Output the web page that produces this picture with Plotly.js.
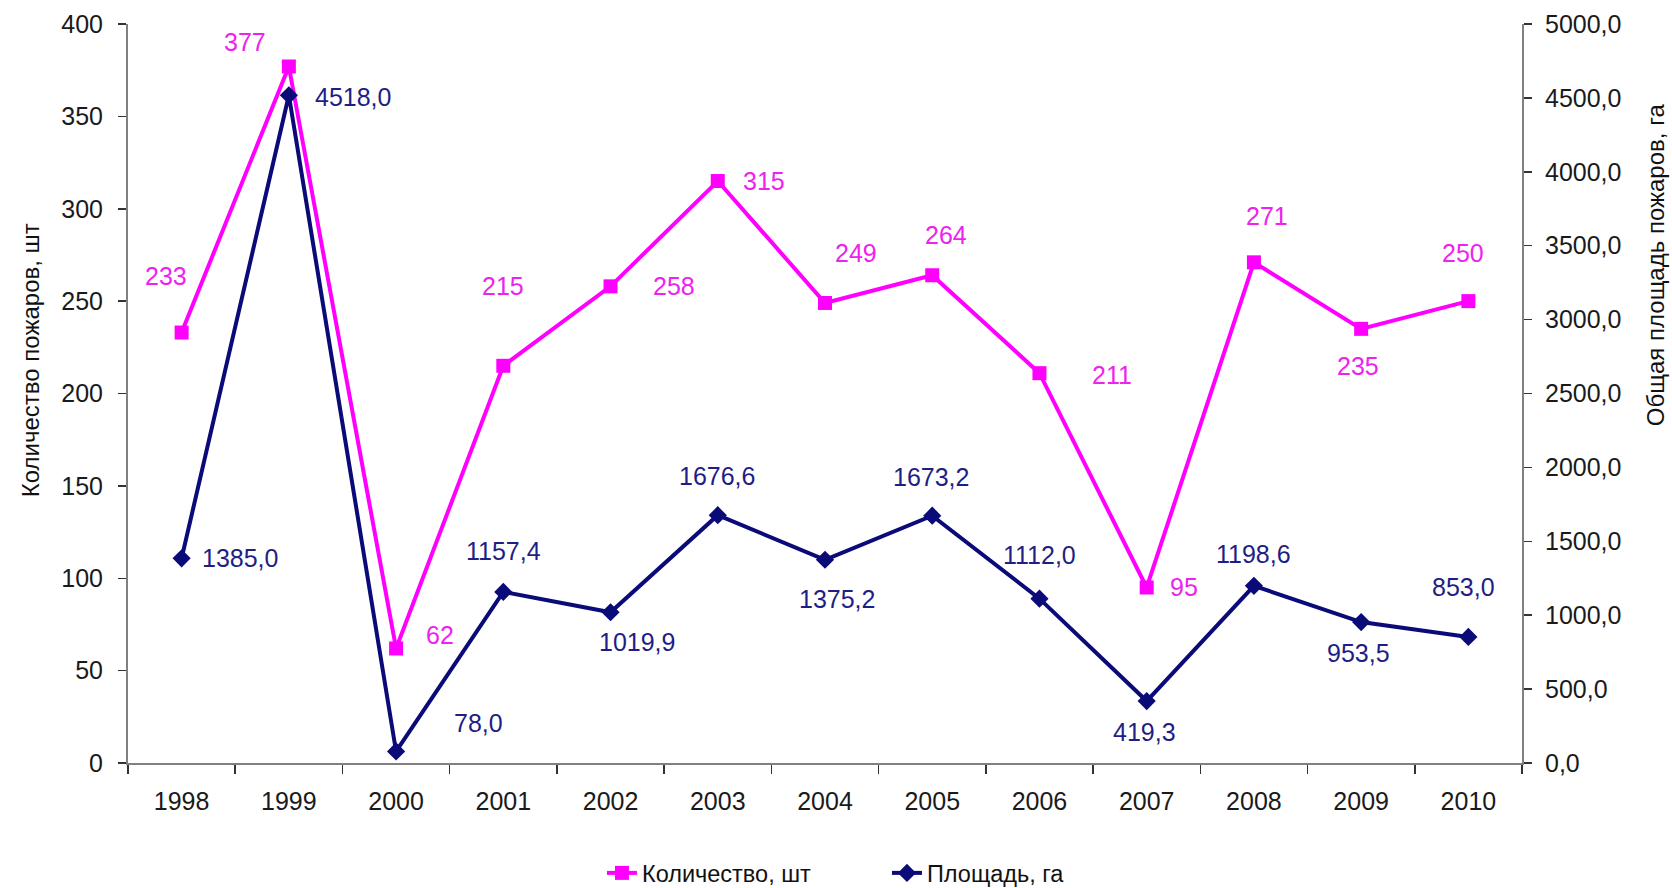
<!DOCTYPE html>
<html>
<head>
<meta charset="utf-8">
<script src="https://cdn.plot.ly/plotly-3.0.1.min.js"></script>
<style>html,body{margin:0;padding:0;background:#fff;}#chart{width:1672px;height:888px;}</style>
</head>
<body>
<div id="chart"></div>
<script>
// ---- data ----
const years = ['1998','1999','2000','2001','2002','2003','2004','2005','2006','2007','2008','2009','2010'];
const countValues = [233, 377, 62, 215, 258, 315, 249, 264, 211, 95, 271, 235, 250];
const areaValues = [1385.0, 4518.0, 78.0, 1157.4, 1019.9, 1676.6, 1375.2, 1673.2, 1112.0, 419.3, 1198.6, 953.5, 853.0];
const countName = 'Количество, шт';
const areaName = 'Площадь, га';
const leftTitle = 'Количество пожаров, шт';
const rightTitle = 'Общая площадь пожаров, га';

// ---- label offsets (pixels: dx right, dy down) ----
const countOffsets = [[-16,-57],[-44,-24],[44,-13],[0,-80],[63,0],[46,0],[31,-50],[14,-40],[73,2],[37,0],[13,-46],[-3,37],[-5,-48]];
const areaOffsets = [[58,0],[64,2],[82,-28],[0,-41],[26,30],[-1,-39],[12,39],[-1,-39],[0,-44],[-2,31],[0,-32],[-3,31],[-5,-50]];

const pink = '#FF00FF';
const pinkText = '#EE22EE';
const navy = '#0A0A78';
const navyText = '#1E1E84';
const font = 'Liberation Sans, Arial, sans-serif';

const fmt1 = v => v.toFixed(1).replace('.', ',');

const traces = [
  {
    x: years, y: countValues, name: countName, type: 'scatter', mode: 'lines+markers',
    line: {color: pink, width: 4}, marker: {symbol: 'square', size: 14, color: pink},
    yaxis: 'y', hoverinfo: 'x+y'
  },
  {
    x: years, y: areaValues, name: areaName, type: 'scatter', mode: 'lines+markers',
    line: {color: navy, width: 4}, marker: {symbol: 'diamond', size: 14, color: navy},
    yaxis: 'y2', hoverinfo: 'x+y'
  }
];

const annotations = [];
years.forEach((yr, i) => {
  annotations.push({
    x: i, y: countValues[i], xref: 'x', yref: 'y', text: String(countValues[i]),
    showarrow: false, xshift: countOffsets[i][0], yshift: -countOffsets[i][1],
    xanchor: 'center', yanchor: 'middle',
    font: {family: font, size: 25, color: pinkText}
  });
  annotations.push({
    x: i, y: areaValues[i], xref: 'x', yref: 'y2', text: fmt1(areaValues[i]),
    showarrow: false, xshift: areaOffsets[i][0], yshift: -areaOffsets[i][1],
    xanchor: 'center', yanchor: 'middle',
    font: {family: font, size: 25, color: navyText}
  });
});
annotations.push({
  xref: 'paper', yref: 'paper', x: -0.0703, y: 0.545, text: leftTitle, textangle: -90,
  showarrow: false, xanchor: 'center', yanchor: 'middle',
  font: {family: 'Liberation Sans Narrow, Arial Narrow, sans-serif', size: 24, color: '#111'}
});
annotations.push({
  xref: 'paper', yref: 'paper', x: 1.0954, y: 0.675, text: rightTitle, textangle: -90,
  showarrow: false, xanchor: 'center', yanchor: 'middle',
  font: {family: 'Liberation Sans Narrow, Arial Narrow, sans-serif', size: 24, color: '#111'}
});

const axisLine = '#808080';
const layout = {
  width: 1672, height: 888,
  margin: {l: 128, r: 150, t: 23.5, b: 124.5, pad: 0, autoexpand: false},
  paper_bgcolor: '#fff', plot_bgcolor: '#fff',
  font: {family: font, size: 25, color: '#1a1a1a'},
  showlegend: true,
  legend: {
    orientation: 'h', x: 0.34, xanchor: 'left', y: -0.149, yanchor: 'middle',
    entrywidth: 240, entrywidthmode: 'pixels',
    font: {family: font, size: 23.5, color: '#111'}, itemsizing: 'trace', tracegroupgap: 0
  },
  xaxis: {
    type: 'category', range: [-0.5, 12.5], showgrid: false, zeroline: false,
    showline: true, linecolor: axisLine, linewidth: 2,
    ticks: 'outside', tickson: 'boundaries', ticklen: 9, tickcolor: '#333', tickwidth: 1.5,
    tickfont: {family: font, size: 25, color: '#1a1a1a'}, ticklabelstandoff: 15
  },
  yaxis: {
    range: [0, 400], dtick: 50, showgrid: false, zeroline: false,
    showline: true, linecolor: axisLine, linewidth: 2,
    ticks: 'outside', ticklen: 8, tickcolor: '#333', tickwidth: 1.5,
    tickfont: {family: font, size: 25, color: '#1a1a1a'}, ticklabelstandoff: 10
  },
  yaxis2: {
    range: [0, 5000], dtick: 500, overlaying: 'y', side: 'right', showgrid: false, zeroline: false,
    showline: true, linecolor: axisLine, linewidth: 2, tickformat: '.1f',
    ticks: 'outside', ticklen: 8, tickcolor: '#333', tickwidth: 1.5,
    tickfont: {family: font, size: 25, color: '#1a1a1a'}, ticklabelstandoff: 8
  },
  separators: ', ',
  annotations: annotations
};

Plotly.newPlot('chart', traces, layout, {displayModeBar: false, staticPlot: true});
</script>
</body>
</html>
